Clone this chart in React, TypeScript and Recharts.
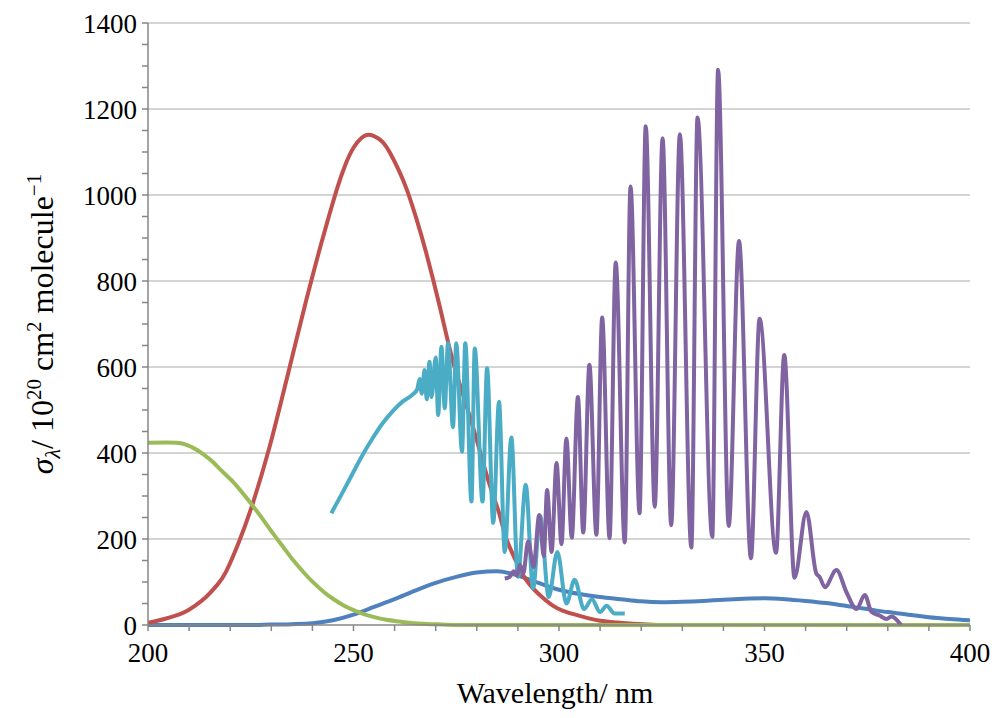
import { Label, Line, LineChart, ReferenceLine, XAxis, YAxis } from "recharts";

// wavelength (nm), cross section (1e-20 cm2 molecule-1)
const redCurve: [number, number][] = [
  [200, 5], [204, 14], [208.5, 28], [211, 42], [214, 64], [217, 95], [219, 124], [222, 190],
  [225.5, 283], [229.6, 415], [233.7, 570], [238.5, 755], [242, 882], [244, 950], [246, 1015],
  [248, 1070], [250, 1110], [252, 1133], [253.5, 1140], [255, 1137], [257, 1124], [259, 1096],
  [261, 1058], [263, 1012], [265.3, 945], [267.7, 865], [271, 740], [274, 620], [277, 525],
  [280, 430], [283, 330], [285.6, 255], [287.2, 200], [290, 140], [292, 105], [294, 82],
  [296, 64], [298.5, 45], [301, 33], [304, 24], [307, 16], [310, 10], [314, 6], [318, 3],
  [324, 0],
];

const greenCurve: [number, number][] = [
  [200, 424], [206.9, 424], [209, 420], [211, 412], [213.5, 397], [215.8, 379], [218, 358],
  [220.7, 333], [223, 307], [225.5, 277], [228, 245], [230.4, 213], [233, 180], [235.3, 151],
  [238, 121], [240.2, 99], [243, 75], [245, 61], [247.5, 46], [249.9, 35], [252, 27],
  [254.8, 19], [258, 12], [261.2, 8], [265, 4], [269.3, 2], [275, 0], [290, 0], [320, 0],
  [360, 0], [400, 0],
];

const blueCurve: [number, number][] = [
  [200, 0], [225, 0], [230, 1], [235, 2], [240, 4], [245, 11], [250, 24], [255, 42], [260, 60],
  [265, 80], [270, 98], [275, 112], [280, 122], [285, 125], [290, 115], [295, 98], [300, 82],
  [305, 72], [310, 65], [315, 60], [320, 55], [325, 53], [330, 54], [335, 56], [340, 59],
  [345, 61], [350, 62], [355, 60], [360, 56], [365, 51], [370, 44], [375, 37], [380, 30],
  [385, 24], [390, 18], [395, 14], [400, 11],
];

const cyanCurve: [number, number][] = [
  [244.6, 260], [247, 302], [249.5, 347], [252, 392], [254.5, 432], [257, 468], [259.5, 497],
  [262, 520], [264.5, 537], [265.5, 548], [266.1, 572], [266.6, 538], [267.3, 593],
  [267.8, 525], [268.5, 612], [269, 530], [270, 622], [270.6, 488], [271.4, 647], [272.2, 504],
  [273, 656], [274.2, 460], [275, 655], [276.4, 403], [277.2, 655], [278.7, 287], [279.5, 643],
  [281.4, 287], [282.5, 597], [284, 237], [285.4, 519], [286.8, 170], [288.4, 436], [290, 112],
  [291.9, 326], [293.7, 85], [295.4, 254], [297.5, 65], [299.6, 170], [301.8, 50], [303.8, 105],
  [306.1, 37], [308, 60], [310, 30], [311.6, 45], [313.5, 27], [316, 27],
];

const purpleCurve: [number, number][] = [
  [286.8, 108], [288, 112], [289, 125], [289.8, 115], [290.5, 140], [291.3, 120], [292.5, 195],
  [293.8, 135], [295.2, 256], [296.3, 160], [297.1, 314], [298.2, 170], [299.4, 377],
  [300.6, 188], [301.8, 434], [303.1, 203], [304.6, 530], [305.9, 215], [307.4, 605],
  [309.1, 210], [310.5, 715], [312.3, 202], [313.8, 843], [316, 192], [317.4, 1020],
  [319.6, 260], [321.1, 1160], [323.3, 275], [325.2, 1132], [327.3, 232], [329.4, 1141],
  [332.2, 180], [333.7, 1180], [337.3, 205], [338.7, 1291], [341.3, 230], [343.8, 893],
  [346.7, 155], [348.8, 712], [352.8, 168], [354.8, 628], [357.3, 110], [360.2, 263],
  [362.6, 120], [363.4, 112], [364.7, 88], [367.5, 128], [370, 75], [372.4, 37], [374.4, 70],
  [376, 31], [378, 22], [379.7, 14], [380.9, 20], [383.2, 0],
];

const xTicks = Array.from({ length: 21 }, (_, i) => 200 + i * 10);
const yTicks = Array.from({ length: 29 }, (_, i) => i * 50);
const gridValues = [200, 400, 600, 800, 1000, 1200, 1400];

const toPoints = (c: [number, number][]) => c.map(([x, y]) => ({ x, y }));

const serif = { fontFamily: "Liberation Serif, DejaVu Serif, serif" };

function XTick({ x, y, payload }: any) {
  if (payload.value % 50 !== 0) return <g />;
  return (
    <text x={x} y={y} dy="0.71em" textAnchor="middle" fill="#000" fontSize={27} style={serif}>
      {payload.value}
    </text>
  );
}

function YTick({ x, y, payload }: any) {
  if (payload.value % 200 !== 0) return <g />;
  return (
    <text x={x} y={y} dy="0.355em" textAnchor="end" fill="#000" fontSize={27} style={serif}>
      {payload.value}
    </text>
  );
}

function YTitle() {
  return (
    <text transform="translate(53, 324) rotate(-90)" textAnchor="middle" fontSize={32} fill="#000" style={serif}>
      <tspan fontStyle="italic">σ</tspan>
      <tspan fontStyle="italic" fontSize={22} dy={7}>λ</tspan>
      <tspan dy={-7}>/ 10</tspan>
      <tspan fontSize={21} dy={-12}>20</tspan>
      <tspan dy={12}> cm</tspan>
      <tspan fontSize={21} dy={-12}>2</tspan>
      <tspan dy={12}> molecule</tspan>
      <tspan fontSize={21} dy={-12}>−1</tspan>
    </text>
  );
}

function XTitle() {
  return (
    <text x={555} y={703} textAnchor="middle" fontSize={30} fill="#000" style={serif}>
      Wavelength/ nm
    </text>
  );
}

export default function App() {
  return (
    <div style={{ position: "absolute", left: 0, top: 0, width: 995, height: 718, background: "#fff" }}>
      <LineChart width={995} height={718} margin={{ top: 23, right: 25, bottom: 0, left: 0 }}>
        {gridValues.map((v) => (
          <ReferenceLine key={v} y={v} stroke="#c6c6c6" strokeWidth={1.5} />
        ))}
        <XAxis
          type="number"
          dataKey="x"
          domain={[200, 400]}
          ticks={xTicks}
          interval={0}
          height={93}
          tick={<XTick />}
          tickSize={6}
          tickMargin={12}
          axisLine={{ stroke: "#868686", strokeWidth: 1.5 }}
          tickLine={{ stroke: "#868686", strokeWidth: 1.5 }}
          allowDataOverflow
        >
          <Label content={<XTitle />} />
        </XAxis>
        <YAxis
          type="number"
          domain={[0, 1400]}
          ticks={yTicks}
          interval={0}
          width={148}
          tick={<YTick />}
          tickSize={6}
          tickMargin={5}
          axisLine={{ stroke: "#868686", strokeWidth: 1.5 }}
          tickLine={{ stroke: "#868686", strokeWidth: 1.5 }}
        >
          <Label content={<YTitle />} />
        </YAxis>
        <Line data={toPoints(blueCurve)} dataKey="y" type="monotone" stroke="#4F81BD" strokeWidth={4} dot={false} isAnimationActive={false} />
        <Line data={toPoints(redCurve)} dataKey="y" type="natural" stroke="#C0504D" strokeWidth={4} dot={false} isAnimationActive={false} />
        <Line data={toPoints(greenCurve)} dataKey="y" type="natural" stroke="#9BBB59" strokeWidth={4} dot={false} isAnimationActive={false} />
        <Line data={toPoints(cyanCurve)} dataKey="y" type="monotone" stroke="#4BACC6" strokeWidth={4} dot={false} isAnimationActive={false} />
        <Line data={toPoints(purpleCurve)} dataKey="y" type="monotone" stroke="#8064A2" strokeWidth={4} dot={false} isAnimationActive={false} />
      </LineChart>
    </div>
  );
}
